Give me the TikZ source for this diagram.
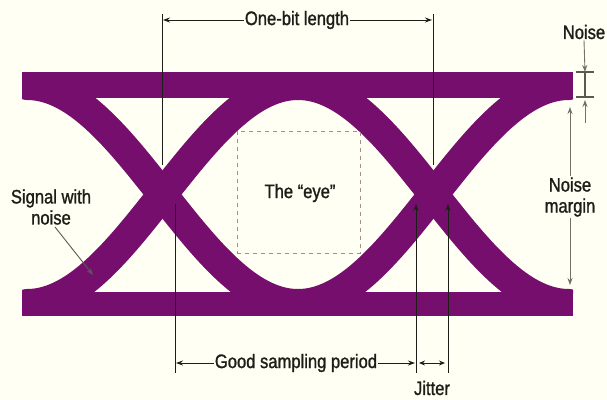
\documentclass[tikz,border=0pt]{standalone}
\usepackage{fontspec}
\setmainfont{Liberation Sans}[FakeStretch=0.85,FakeBold=1.2]
\usetikzlibrary{arrows.meta}
\definecolor{bg}{RGB}{255,255,243}
\definecolor{eyepurple}{RGB}{118,14,110}
\definecolor{ink}{RGB}{30,30,24}
\definecolor{gline}{RGB}{90,90,80}
\definecolor{lgline}{RGB}{115,112,100}
\definecolor{dashc}{RGB}{160,145,135}
\begin{document}
\begin{tikzpicture}[x=1pt,y=-1pt,
  band/.style={draw=eyepurple,line width=30pt,line cap=round,line join=round},
  lab/.style={text=ink,font=\fontsize{19.5}{21}\selectfont,inner sep=1pt,align=center},
  vline/.style={draw=ink,line width=1pt},
  arr/.style={draw=ink,line width=0.9pt,-{Stealth[length=7pt,width=5pt]}},
  darr/.style={draw=ink,line width=0.9pt,{Stealth[length=6pt,width=5pt]}-{Stealth[length=6pt,width=5pt]}},
  garr/.style={draw=lgline,line width=0.9pt,-{Stealth[length=7pt,width=5pt]}},
  beam/.style={draw=gline,line width=1.3pt}]
\fill[bg] (0,0) rectangle (607,399);
\useasboundingbox (0,0) rectangle (607,399);
% eye band
\fill[eyepurple] (22,72) rectangle (573,98);
\fill[eyepurple] (22,292) rectangle (573,316);
\begin{scope}
  \clip (22,97) rectangle (573,293);
  \draw[band] plot[domain=27:298,samples=120] (\x,{194.5-109.5*cos((\x-27)*0.6642066)});
  \draw[band] plot[domain=27:298,samples=120] (\x,{194.5+109.5*cos((\x-27)*0.6642066)});
  \draw[band] plot[domain=298:569,samples=120] (\x,{194.5-109.5*cos((\x-298)*0.6642066)});
  \draw[band] plot[domain=298:569,samples=120] (\x,{194.5+109.5*cos((\x-298)*0.6642066)});
\end{scope}
% eye box
\node[draw=dashc,dash pattern=on 4pt off 4pt,line width=0.8pt,minimum width=123pt,minimum height=122pt,inner sep=0pt] (eyebox) at (298.5,192) {};
\node[lab] (eyetext) at (300,193) {The “eye”};
% one-bit length
\coordinate (obLt) at (162,14);
\coordinate (obLb) at (162,165);
\coordinate (obRt) at (433,14);
\coordinate (obRb) at (433,165);
\draw[vline] (obLt) -- (obLb);
\draw[vline] (obRt) -- (obRb);
\node[lab] (obl) at (297,20) {One-bit length};
\coordinate (obLa) at (163,20);
\coordinate (obRa) at (432,20);
\draw[arr] (obl.west) -- (obLa);
\draw[arr] (obl.east) -- (obRa);
% sampling period and jitter
\coordinate (gsLt) at (175,204);
\coordinate (gsLb) at (175,373);
\coordinate (gsRt) at (416,204);
\coordinate (gsRb) at (416,373);
\coordinate (jtRt) at (448,204);
\coordinate (jtRb) at (448,373);
\draw[vline] (gsLt) -- (gsLb);
\draw[arr,line width=1pt] (gsRb) -- (gsRt);
\draw[arr,line width=1pt] (jtRb) -- (jtRt);
\node[lab] (gsp) at (296,363) {Good sampling period};
\coordinate (gsLa) at (176,363);
\coordinate (gsRa) at (415,363);
\draw[arr] (gsp.west) -- (gsLa);
\draw[arr] (gsp.east) -- (gsRa);
\coordinate (jtA) at (419,363);
\coordinate (jtB) at (445,363);
\draw[darr] (jtA) -- (jtB);
\node[lab] (jitter) at (432,388) {Jitter};
% noise
\node[lab] (noise) at (584,32) {Noise};
\coordinate (bmT) at (585,72);
\coordinate (bmB) at (585,97);
\coordinate (bmTl) at (576,72);
\coordinate (bmTr) at (594,72);
\coordinate (bmBl) at (576,97);
\coordinate (bmBr) at (594,97);
\draw[beam] (bmT) -- (bmB);
\draw[beam] (bmTl) -- (bmTr);
\draw[beam] (bmBl) -- (bmBr);
\draw[garr] (noise.south) -- (bmT);
\coordinate (nsLow) at (585,123);
\coordinate (nsLowTip) at (585,100);
\draw[garr] (nsLow) -- (nsLowTip);
% noise margin
\node[lab] (nm) at (570,197) {Noise\\margin};
\coordinate (nmT) at (570,107);
\coordinate (nmB) at (570,285);
\draw[garr] (nm.north) -- (nmT);
\draw[garr] (nm.south) -- (nmB);
% signal with noise
\node[lab] (swn) at (51,207) {Signal with\\noise};
\coordinate (swnTip) at (93,275);
\coordinate (swnS) at (55,227);
\draw[arr,draw=gline] (swnS) -- (swnTip);
\end{tikzpicture}
\end{document}
